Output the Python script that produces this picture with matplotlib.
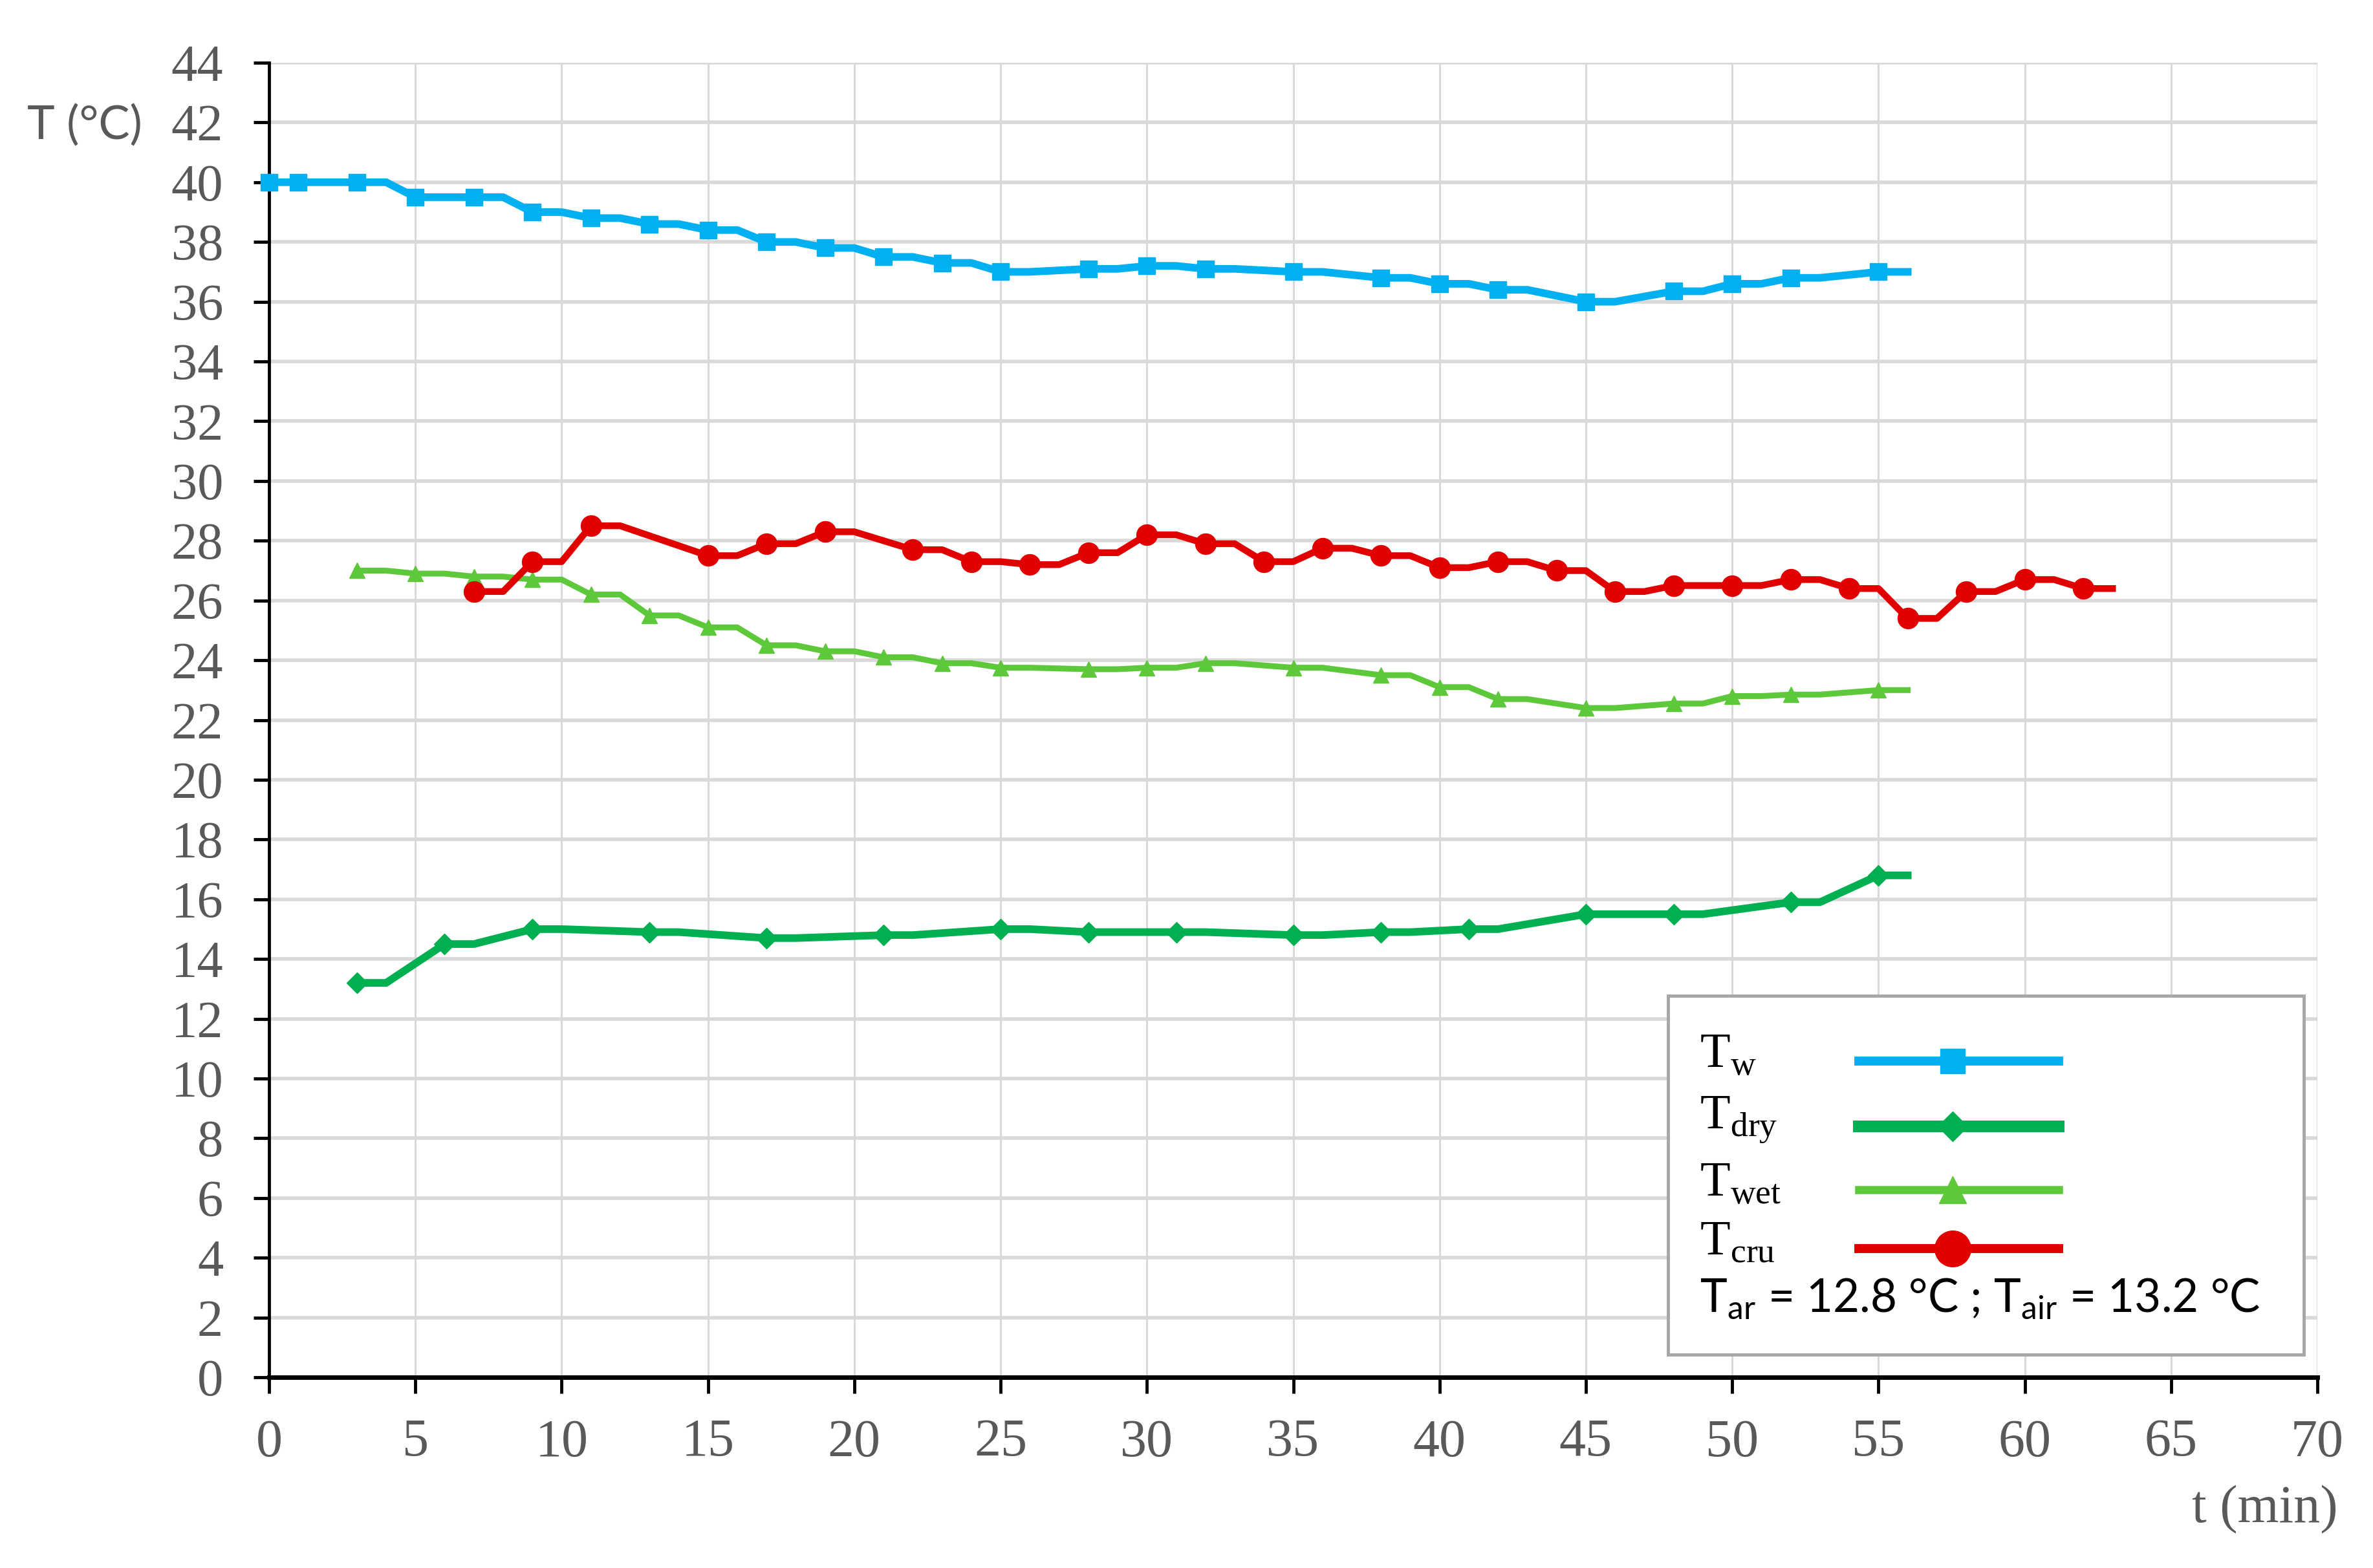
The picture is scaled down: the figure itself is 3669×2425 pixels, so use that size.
import matplotlib
matplotlib.use("Agg")
import matplotlib.pyplot as plt
from matplotlib.patches import Rectangle
from matplotlib.lines import Line2D

plt.rcParams['mathtext.fontset'] = 'custom'
plt.rcParams['mathtext.rm'] = 'Liberation Serif'
plt.rcParams['mathtext.sf'] = 'Lato'

# ---------------- data ----------------
# time (min) / temperature (°C); markers only at measured times
t_w = [0, 1, 3, 4, 5, 6, 7, 8, 9, 10, 11, 12, 13, 14, 15, 16, 17, 18, 19, 20, 21, 22, 23, 24, 25, 26,
       28, 29, 30, 31, 32, 33, 35, 36, 38, 39, 40, 41, 42, 43, 45, 46, 48, 49, 50, 51, 52, 53, 55, 56]
T_w = [40.0, 40.0, 40.0, 40.0, 39.5, 39.5, 39.5, 39.5, 39.0, 39.0, 38.8, 38.8, 38.6, 38.6, 38.4, 38.4,
       38.0, 38.0, 37.8, 37.8, 37.5, 37.5, 37.3, 37.3, 37.0, 37.0, 37.1, 37.1, 37.2, 37.2, 37.1, 37.1,
       37.0, 37.0, 36.8, 36.8, 36.6, 36.6, 36.4, 36.4, 36.0, 36.0, 36.35, 36.35, 36.6, 36.6, 36.8, 36.8,
       37.0, 37.0]
mk_w = [0, 1, 3, 5, 7, 9, 11, 13, 15, 17, 19, 21, 23, 25, 28, 30, 32, 35, 38, 40, 42, 45, 48, 50, 52, 55]

t_dry = [3, 4, 6, 7, 9, 10, 13, 14, 17, 18, 21, 22, 25, 26, 28, 29, 31, 32, 35, 36, 38, 39, 41, 42,
         45, 46, 48, 49, 52, 53, 55, 56]
T_dry = [13.2, 13.2, 14.5, 14.5, 15.0, 15.0, 14.9, 14.9, 14.7, 14.7, 14.8, 14.8, 15.0, 15.0, 14.9, 14.9,
         14.9, 14.9, 14.8, 14.8, 14.9, 14.9, 15.0, 15.0, 15.5, 15.5, 15.5, 15.5, 15.9, 15.9, 16.8, 16.8]
mk_dry = [3, 6, 9, 13, 17, 21, 25, 28, 31, 35, 38, 41, 45, 48, 52, 55]

t_wet = [3, 4, 5, 6, 7, 8, 9, 10, 11, 12, 13, 14, 15, 16, 17, 18, 19, 20, 21, 22, 23, 24, 25, 26,
         28, 29, 30, 31, 32, 33, 35, 36, 38, 39, 40, 41, 42, 43, 45, 46, 48, 49, 50, 51, 52, 53, 55, 56]
T_wet = [27.0, 27.0, 26.9, 26.9, 26.8, 26.8, 26.7, 26.7, 26.2, 26.2, 25.5, 25.5, 25.1, 25.1, 24.5, 24.5,
         24.3, 24.3, 24.1, 24.1, 23.9, 23.9, 23.75, 23.75, 23.7, 23.7, 23.75, 23.75, 23.9, 23.9,
         23.75, 23.75, 23.5, 23.5, 23.1, 23.1, 22.7, 22.7, 22.4, 22.4, 22.55, 22.55, 22.8, 22.8,
         22.85, 22.85, 23.0, 23.0]
mk_wet = [3, 5, 7, 9, 11, 13, 15, 17, 19, 21, 23, 25, 28, 30, 32, 35, 38, 40, 42, 45, 48, 50, 52, 55]

t_cru = [7, 8, 9, 10, 11, 12, 15, 16, 17, 18, 19, 20, 22, 23, 24, 25, 26, 27, 28, 29, 30, 31, 32, 33,
         34, 35, 36, 37, 38, 39, 40, 41, 42, 43, 44, 45, 46, 47, 48, 49, 50, 51, 52, 53, 54, 55, 56,
         57, 58, 59, 60, 61, 62, 63]
T_cru = [26.3, 26.3, 27.3, 27.3, 28.5, 28.5, 27.5, 27.5, 27.9, 27.9, 28.3, 28.3, 27.7, 27.7, 27.3, 27.3,
         27.2, 27.2, 27.6, 27.6, 28.2, 28.2, 27.9, 27.9, 27.3, 27.3, 27.75, 27.75, 27.5, 27.5, 27.1, 27.1,
         27.3, 27.3, 27.0, 27.0, 26.3, 26.3, 26.5, 26.5, 26.5, 26.5, 26.7, 26.7, 26.4, 26.4, 25.4, 25.4,
         26.3, 26.3, 26.7, 26.7, 26.4, 26.4]
mk_cru = [7, 9, 11, 15, 17, 19, 22, 24, 26, 28, 30, 32, 34, 36, 38, 40, 42, 44, 46, 48, 50, 52, 54, 56,
          58, 60, 62]

x_ticks = list(range(0, 71, 5))
y_ticks = list(range(0, 45, 2))

# ---------------- figure ----------------
W, H = 3669, 2425
fig = plt.figure(figsize=(W / 100, H / 100), dpi=100)
ax = fig.add_axes([416 / W, 1 - 2130 / H, (3583 - 416) / W, (2130 - 97) / H])

ax.set_xlim(0, 70)
ax.set_ylim(0, 44)
ax.set_xticks(x_ticks)
ax.set_yticks(y_ticks)

# grid
for y in y_ticks[1:]:
    ax.axhline(y, color='#D9D9D9', lw=4.0, zorder=0)
for x in x_ticks[1:]:
    ax.axvline(x, color='#D9D9D9', lw=2.2, zorder=0)

for s in ['top', 'right']:
    ax.spines[s].set_visible(False)
ax.spines['left'].set_linewidth(3.5)
ax.spines['bottom'].set_linewidth(5.0)

ax.tick_params(axis='y', direction='out', length=17, width=3.5, pad=34,
               labelsize=58, labelcolor='#595959')
ax.tick_params(axis='x', direction='out', length=18, width=3.5, pad=28,
               labelsize=59, labelcolor='#595959')
for lab in ax.get_xticklabels() + ax.get_yticklabels():
    lab.set_fontfamily('Liberation Serif')

def idx(ts, mk):
    return [i for i, t in enumerate(ts) if t in mk]

c_w, c_dry, c_wet, c_cru = '#00B0F0', '#00B050', '#5CC83A', '#E00000'

ax.plot(t_w, T_w, color=c_w, lw=8.5, marker='s', ms=19, markevery=idx(t_w, mk_w),
        clip_on=False, zorder=3)
ax.plot(t_dry, T_dry, color=c_dry, lw=8.5, marker='D', ms=16, markevery=idx(t_dry, mk_dry),
        clip_on=False, zorder=3)
ax.plot(t_wet, T_wet, color=c_wet, lw=6.5, marker='^', ms=17, markevery=idx(t_wet, mk_wet),
        clip_on=False, zorder=3)
ax.plot(t_cru, T_cru, color=c_cru, lw=7.5, marker='o', ms=23, markevery=idx(t_cru, mk_cru),
        clip_on=False, zorder=3)

# axis titles
fig.text(42 / W, 1 - 194 / H, 'T (°C)', fontfamily='Lato', fontsize=52, color='#595959',
         ha='left', va='center')
fig.text(3615 / W, 1 - 2335 / H, 't (min)', fontfamily='Liberation Serif', fontsize=59,
         color='#595959', ha='right', va='center')

# ---------------- legend box ----------------
def ax_frac(dx, dy):
    # convert reference display (1568x1036) coordinates to axes fraction
    return (dx - 178) / (1531 - 178), (910 - dy) / (910 - 41)

x0, y0 = ax_frac(1102, 895)
x1, y1 = ax_frac(1522, 658)
ax.add_patch(Rectangle((x0, y0), x1 - x0, y1 - y0, transform=ax.transAxes,
                       facecolor='white', edgecolor='#A6A6A6', lw=3.5, zorder=5, clip_on=False))

entries = [
    (r'T$_{\mathrm{w}}$', 697, c_w, 10, 's', 28),
    (r'T$_{\mathrm{dry}}$', 740, c_dry, 13, 'D', 23),
    (r'T$_{\mathrm{wet}}$', 782, c_wet, 9, '^', 30),
    (r'T$_{\mathrm{cru}}$', 821, c_cru, 10, 'o', 40),
]
lx, _ = ax_frac(1123, 0)
sx0, _ = ax_frac(1228, 0)
sx1, _ = ax_frac(1360, 0)
smx, _ = ax_frac(1290, 0)
for lab, dy, col, lw, m, ms in entries:
    _, yy = ax_frac(0, dy)
    ax.text(lx, yy, lab, transform=ax.transAxes, fontfamily='Liberation Serif', fontsize=55,
            color='black', ha='left', va='center', zorder=6)
    _, ly = ax_frac(0, dy + 4)
    ax.add_line(Line2D([sx0, sx1], [ly, ly], transform=ax.transAxes, color=col, lw=lw,
                       zorder=6, clip_on=False))
    ax.add_line(Line2D([smx], [ly], transform=ax.transAxes, color=col, marker=m, ms=ms,
                       lw=0, zorder=7, clip_on=False))

_, yy = ax_frac(0, 858)
ax.text(lx, yy, r'T$_{\mathsf{ar}}$ = 12.8 °C ; T$_{\mathsf{air}}$ = 13.2 °C', transform=ax.transAxes,
        fontfamily='Lato', fontsize=51, color='black', ha='left', va='center', zorder=6)

fig.savefig('out.png', dpi=100, facecolor='white')
